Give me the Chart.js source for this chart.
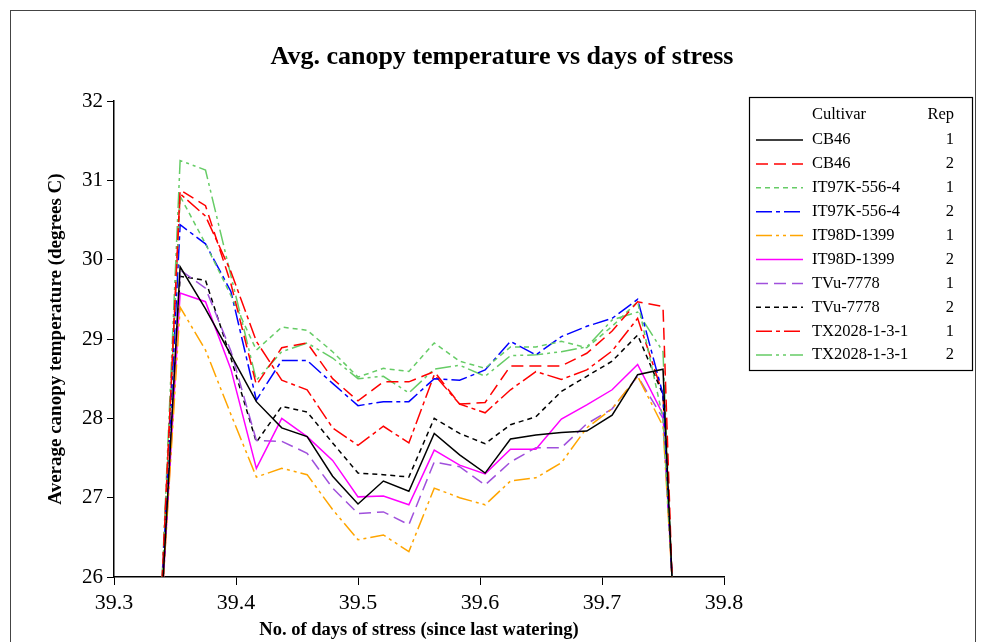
<!DOCTYPE html>
<html>
<head>
<meta charset="utf-8">
<script src="https://cdn.jsdelivr.net/npm/chart.js@4.4.0/dist/chart.umd.min.js"></script>
<style>
  html, body { margin: 0; padding: 0; background: #fff; overflow: hidden; }
  #frame { position: absolute; left: 10px; top: 10px; width: 964px; height: 640px; border: 1.5px solid #444; border-bottom: none; }
  #chart { position: absolute; left: 0; top: 0; }
</style>
</head>
<body>
<div id="frame"></div>
<canvas id="chart" width="984" height="642"></canvas>
<script>
// readings every half hour (day number since last watering)
const days = [39.3333, 39.3542, 39.3750, 39.3958, 39.4167, 39.4375, 39.4583, 39.4792,
              39.5000, 39.5208, 39.5417, 39.5625, 39.5833, 39.6042, 39.6250, 39.6458,
              39.6667, 39.6875, 39.7083, 39.7292, 39.7500, 39.7708];

const cb46_1    = [24.0, 29.91, 29.38, 28.80, 28.21, 27.88, 27.77, 27.27, 26.92, 27.21, 27.08, 27.81, 27.54, 27.31, 27.74, 27.79, 27.82, 27.84, 28.04, 28.55, 28.62, 21.2];
const cb46_2    = [23.9, 30.88, 30.68, 29.70, 28.42, 28.89, 28.95, 28.50, 28.22, 28.46, 28.46, 28.59, 28.18, 28.20, 28.66, 28.66, 28.66, 28.82, 29.10, 29.47, 29.41, 19.8];
const it97k_1   = [23.9, 30.80, 30.20, 29.55, 28.86, 29.15, 29.11, 28.84, 28.52, 28.63, 28.59, 28.95, 28.72, 28.63, 28.90, 28.90, 28.97, 28.89, 29.16, 29.47, 28.00, 22.4];
const it97k_2   = [24.0, 30.44, 30.20, 29.60, 28.23, 28.73, 28.73, 28.44, 28.16, 28.21, 28.21, 28.50, 28.48, 28.61, 28.97, 28.80, 29.03, 29.16, 29.26, 29.50, 28.30, 21.8];
const it98d_1   = [24.2, 29.40, 28.86, 28.05, 27.26, 27.37, 27.29, 26.85, 26.47, 26.53, 26.32, 27.12, 27.00, 26.91, 27.21, 27.25, 27.44, 27.88, 28.12, 28.53, 27.90, 22.5];
const it98d_2   = [24.1, 29.58, 29.47, 28.62, 27.37, 28.00, 27.77, 27.47, 27.01, 27.02, 26.91, 27.60, 27.41, 27.30, 27.61, 27.61, 27.99, 28.17, 28.36, 28.68, 28.05, 22.3];
const tvu_1     = [24.0, 29.87, 29.64, 28.85, 27.72, 27.71, 27.56, 27.12, 26.80, 26.82, 26.66, 27.45, 27.39, 27.16, 27.45, 27.63, 27.63, 27.93, 28.12, 28.53, 28.00, 22.4];
const tvu_2     = [24.0, 29.79, 29.74, 28.76, 27.70, 28.15, 28.08, 27.69, 27.31, 27.29, 27.26, 28.00, 27.81, 27.68, 27.92, 28.02, 28.34, 28.53, 28.72, 29.05, 28.30, 21.8];
const tx2028_1  = [23.9, 30.83, 30.55, 29.85, 28.97, 28.48, 28.36, 27.88, 27.66, 27.90, 27.69, 28.55, 28.18, 28.07, 28.36, 28.59, 28.49, 28.61, 28.85, 29.26, 28.30, 21.8];
const tx2028_2  = [23.8, 31.25, 31.13, 29.80, 28.48, 28.84, 28.95, 28.76, 28.50, 28.53, 28.32, 28.62, 28.67, 28.53, 28.79, 28.80, 28.84, 28.90, 29.24, 29.34, 28.84, 20.8];

const cultivars = ['CB46', 'CB46', 'IT97K-556-4', 'IT97K-556-4', 'IT98D-1399', 'IT98D-1399',
                   'TVu-7778', 'TVu-7778', 'TX2028-1-3-1', 'TX2028-1-3-1'];
const reps = [1, 2, 1, 2, 1, 2, 1, 2, 1, 2];
const yTicks = [26, 27, 28, 29, 30, 31, 32];

const values = [cb46_1, cb46_2, it97k_1, it97k_2, it98d_1, it98d_2, tvu_1, tvu_2, tx2028_1, tx2028_2];
const colors = ['#000000', '#ff0000', '#66cc66', '#0000ff', '#ffa500', '#ff00ff', '#a050dc', '#000000', '#ff0000', '#66cc66'];
const dashes = [[], [12, 6], [5, 4], [16, 4, 4, 4], [16, 4, 3, 4, 3, 4], [], [12, 6], [5, 4], [16, 4, 4, 4], [16, 4, 3, 4, 3, 4]];

const datasets = values.map((vals, i) => ({
    label: cultivars[i] + ' ' + reps[i],
    data: vals.map((v, k) => ({ x: days[k], y: v })),
    borderColor: colors[i],
    borderDash: dashes[i],
    borderWidth: 1.5,
    pointRadius: 0,
    tension: 0,
    fill: false
}));

Chart.defaults.font.family = '"Liberation Serif", "Times New Roman", serif';
Chart.defaults.color = '#000';

const titleText = {
    id: 'titleText',
    afterDraw(chart) {
        const ctx = chart.ctx;
        ctx.save();
        ctx.font = 'bold 26px "Liberation Serif"';
        ctx.fillStyle = '#000';
        ctx.textAlign = 'center';
        ctx.textBaseline = 'middle';
        ctx.fillText('Avg. canopy temperature vs days of stress', 502, 57);
        ctx.restore();
    }
};

const legendBox = {
    id: 'legendBox',
    afterDraw(chart) {
        const ctx = chart.ctx;
        ctx.save();
        ctx.strokeStyle = '#000';
        ctx.lineWidth = 1.2;
        ctx.strokeRect(749.5, 97.5, 223, 273);
        ctx.font = '16.5px "Liberation Serif"';
        ctx.fillStyle = '#000';
        ctx.textBaseline = 'middle';
        ctx.textAlign = 'left';
        ctx.fillText('Cultivar', 812, 115);
        ctx.textAlign = 'right';
        ctx.fillText('Rep', 954, 115);
        chart.data.datasets.forEach((ds, i) => {
            const y = 140 + i * 23.9;
            ctx.strokeStyle = ds.borderColor;
            ctx.lineWidth = ds.borderWidth;
            ctx.setLineDash(ds.borderDash);
            ctx.beginPath();
            ctx.moveTo(756, y);
            ctx.lineTo(803, y);
            ctx.stroke();
            ctx.setLineDash([]);
            ctx.textAlign = 'left';
            ctx.fillText(cultivars[i], 812, y);
            ctx.textAlign = 'right';
            ctx.fillText(String(reps[i]), 954, y);
        });
        ctx.restore();
    }
};

new Chart(document.getElementById('chart'), {
    type: 'line',
    data: { datasets: datasets },
    options: {
        responsive: false,
        animation: false,
        devicePixelRatio: 1,
        layout: { padding: { left: 10, top: 101, right: 260, bottom: 0 } },
        plugins: { legend: { display: false }, tooltip: { enabled: false } },
        scales: {
            x: {
                type: 'linear',
                min: 39.3,
                max: 39.8,
                ticks: { stepSize: 0.1, padding: 5, font: { size: 22 }, callback: v => v.toFixed(1) },
                grid: { drawOnChartArea: false, drawTicks: true, tickLength: 8, color: '#000' },
                border: { color: '#000', width: 1.5 },
                title: { display: true, text: 'No. of days of stress (since last watering)',
                         font: { size: 18.5, weight: 'bold' }, padding: { top: 0, bottom: 1 } },
                afterFit: s => { s.height = 65; }
            },
            y: {
                min: yTicks[0],
                max: yTicks[yTicks.length - 1],
                afterBuildTicks: s => { s.ticks = yTicks.map(v => ({ value: v })); },
                ticks: { padding: 4, font: { size: 21 } },
                grid: { drawOnChartArea: false, drawTicks: true, tickLength: 7, color: '#000' },
                border: { color: '#000', width: 1.5 },
                title: { display: true, text: 'Average canopy temperature (degrees C)',
                         font: { size: 19, weight: 'bold' }, padding: { top: 35, bottom: 0 } },
                afterFit: s => { s.width = 104; }
            }
        }
    },
    plugins: [titleText, legendBox]
});
</script>
</body>
</html>
